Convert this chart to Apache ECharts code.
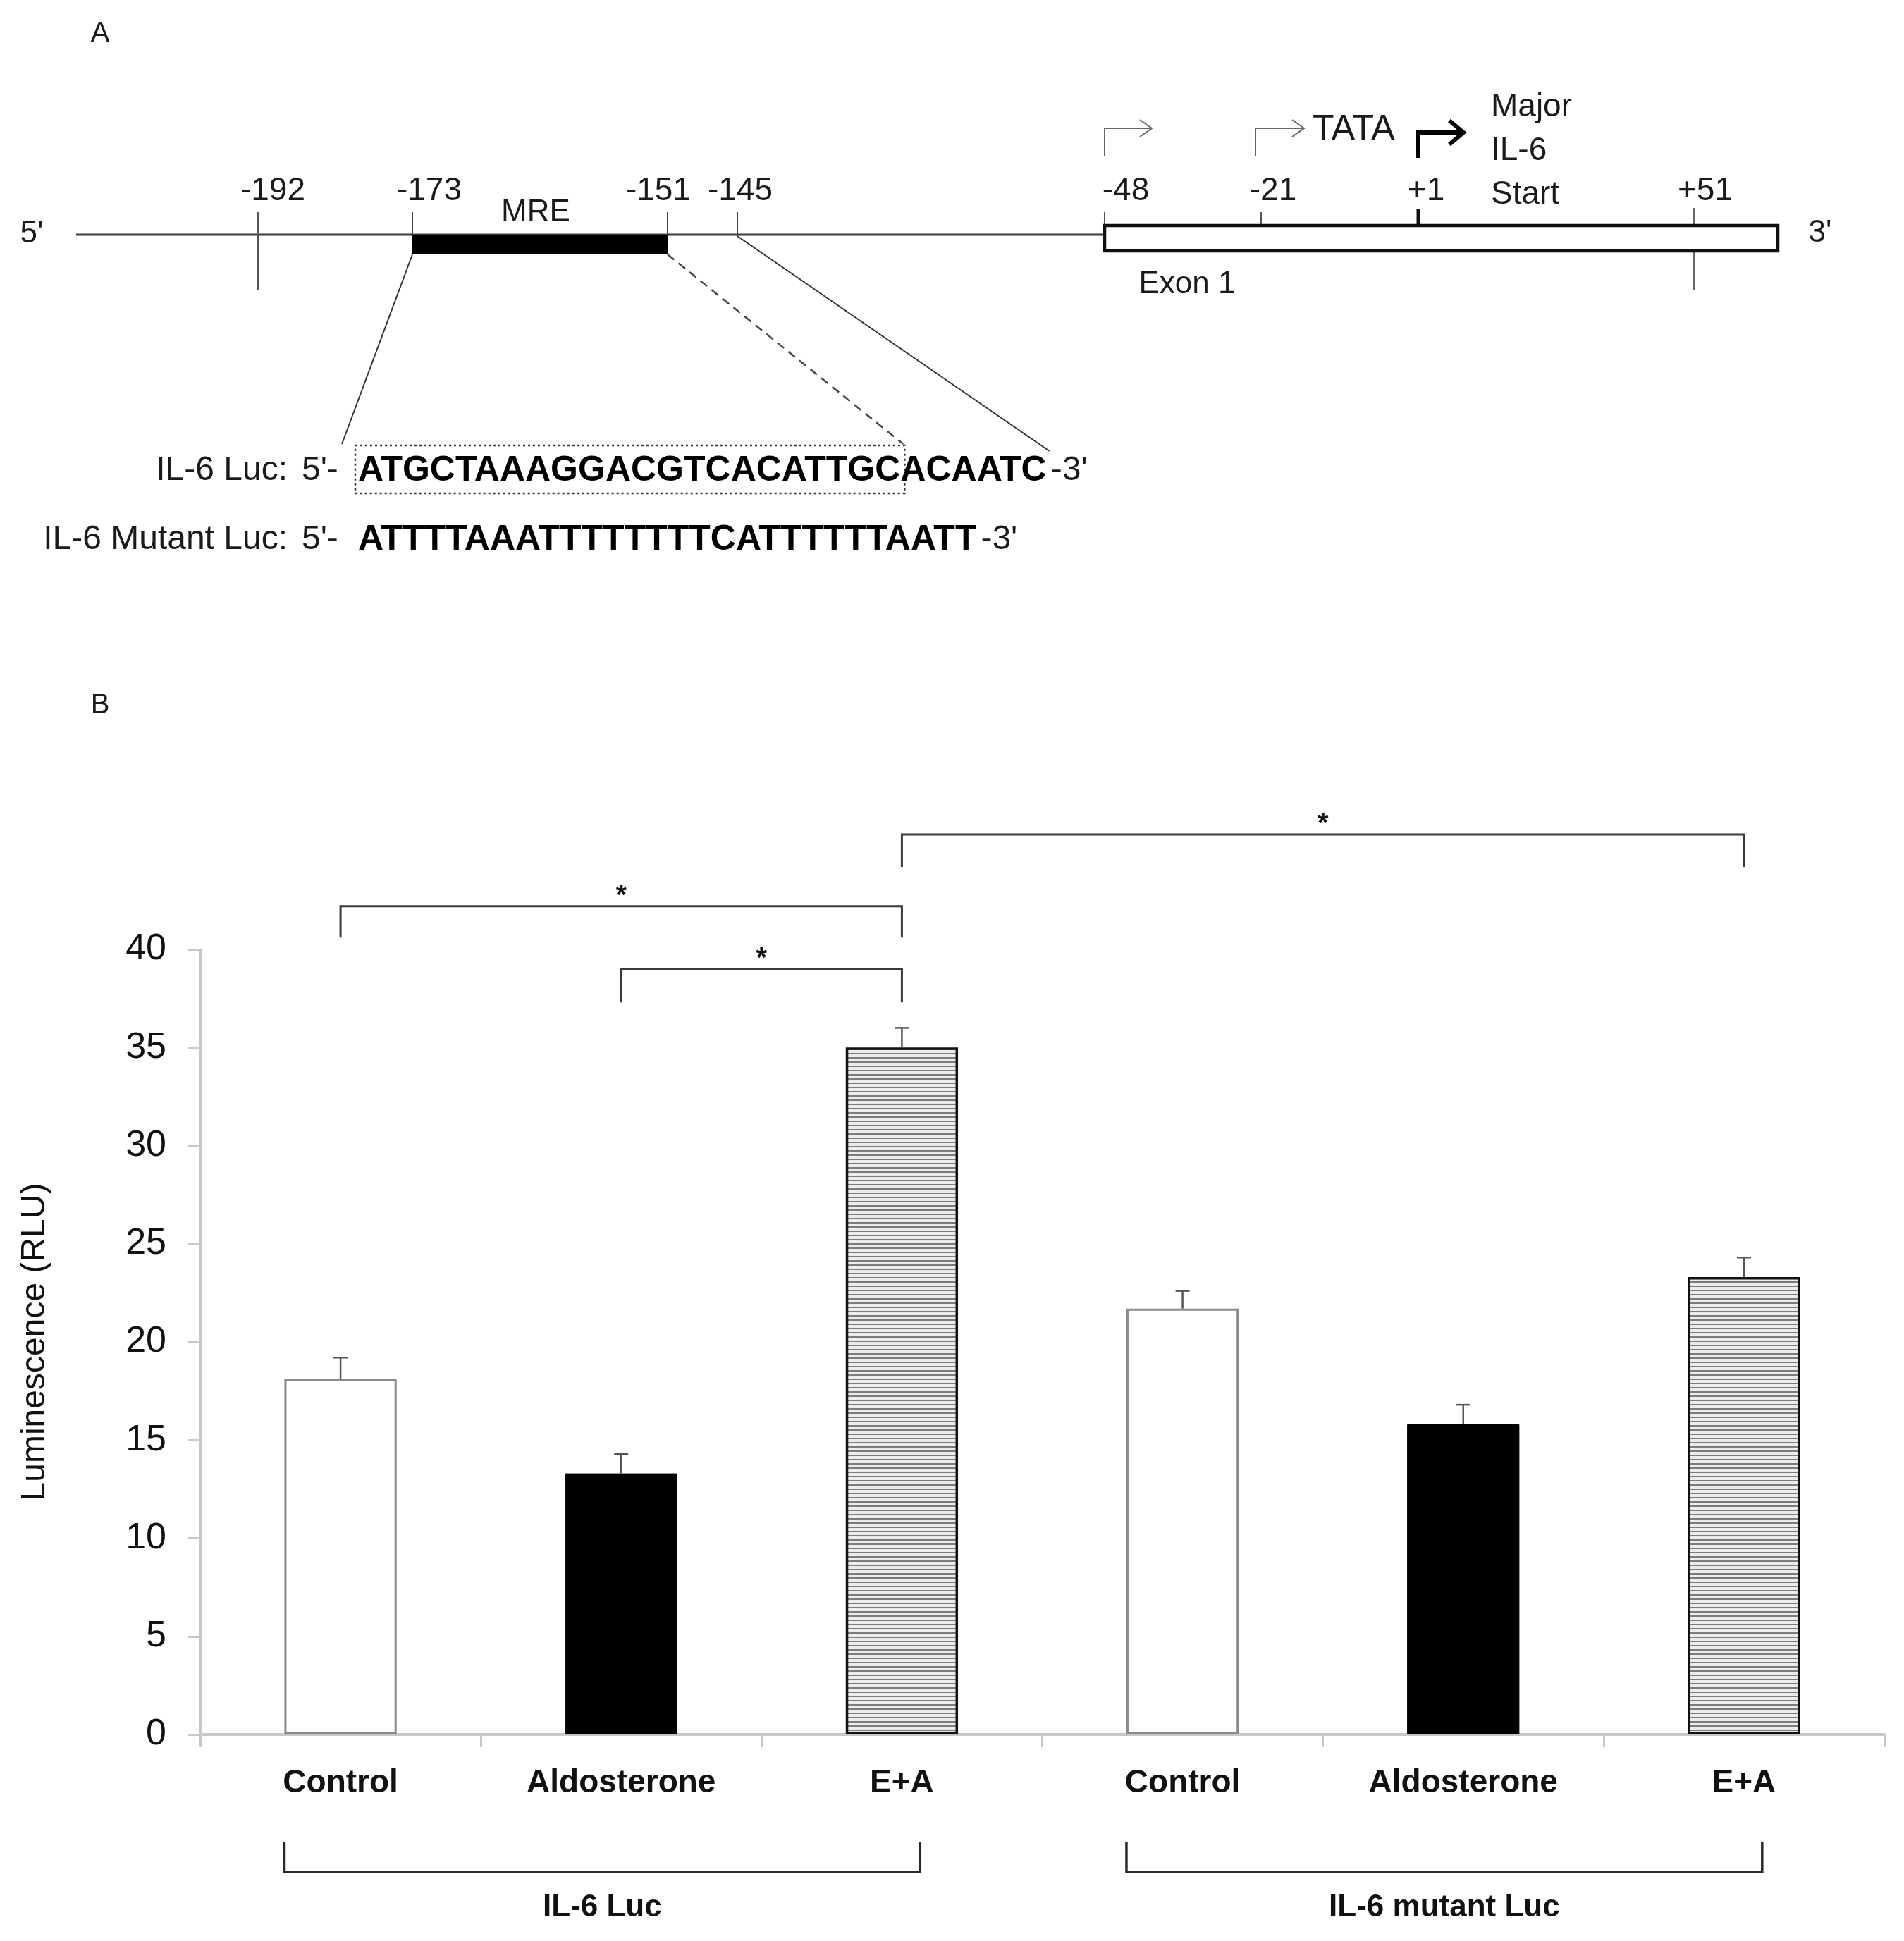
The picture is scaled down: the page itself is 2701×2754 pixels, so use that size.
<!DOCTYPE html>
<html>
<head>
<meta charset="utf-8">
<script src="https://cdn.jsdelivr.net/npm/echarts@6/dist/echarts.min.js"></script>
<style>
html,body{margin:0;padding:0;background:#ffffff;}
#chart{width:2701px;height:2754px;}
</style>
</head>
<body>
<div id="chart"></div>
<script>
// ---------------- DATA (panel B) ----------------
const categories = ['Control', 'Aldosterone', 'E+A', 'Control', 'Aldosterone', 'E+A'];
const treatments = ['control', 'aldo', 'ea', 'control', 'aldo', 'ea'];
const values = [18.1, 13.3, 35.0, 21.7, 15.8, 23.3];
const errors = [1.1, 1.0, 1.0, 0.9, 1.0, 1.0];
const yAxisName = 'Luminescence (RLU)';
const groupLabels = ['IL-6 Luc', 'IL-6 mutant Luc'];
const groupStart = [0, 3];
const groupEnd = [2, 5];
const sigFrom = [0, 1, 2];
const sigTo = [2, 2, 5];
const sigTop = [42.2, 39.0, 45.85];
const sigLegEnd = [40.6, 37.3, 44.2];
const sigMark = ['*', '*', '*'];

// ---------------- DATA (panel A) ----------------
const panelLabels = ['A', 'B'];
const siteLabels = ['-192', '-173', '-151', '-145', '-48', '-21', '+1', '+51'];
const elementLabel = 'MRE';
const exonLabel = 'Exon 1';
const tataLabel = 'TATA';
const startLabel = ['Major', 'IL-6', 'Start'];
const seqNames = ['IL-6 Luc:', 'IL-6 Mutant Luc:'];
const seqMre = ['ATGCTAAAGGACGTCACATTGC', 'ATTTTAAATTTTTTTTCATTTT'];
const seqFlank = ['ACAATC', 'TTAATT'];

// ---------------- LAYOUT ----------------
const FONT = '"Liberation Sans", Arial, Helvetica, sans-serif';
const LA = {
  lineY: 333, lineX0: 108,
  siteX: [366, 585, 947, 1046, 1567, 1789, 2012, 2403],
  siteLabelX: [387, 609, 934, 1050, 1597, 1806, 2023, 2419],
  siteLabelY: 271,
  exonRight: 2522, exonTop: 320, exonBottom: 356,
  seqNameRight: 408, primeX: 428, seqX: 508, seqY: [668, 766]
};

function txt(text, x, y, size, opt) {
  opt = opt || {};
  const al = opt.align || 'center';
  const va = opt.va || 'middle';
  return {
    type: 'text', z: 10, silent: true,
    style: {
      text: text, x: x, y: y,
      font: (opt.weight || 'normal') + ' ' + size + 'px ' + FONT,
      fill: opt.color || '#1a1a1a',
      align: al, textAlign: al, verticalAlign: va, textVerticalAlign: va
    }
  };
}
function ln(x1, y1, x2, y2, w, color, dash) {
  return {
    type: 'line', z: 5, silent: true,
    shape: { x1: x1, y1: y1, x2: x2, y2: y2 },
    style: { stroke: color || '#333', lineWidth: w || 2, lineDash: dash || null, lineCap: 'butt' }
  };
}
function pl(points, w, color) {
  return {
    type: 'polyline', z: 5, silent: true,
    shape: { points: points },
    style: { stroke: color || '#333', lineWidth: w || 2, fill: null, lineJoin: 'miter' }
  };
}

const measureCtx = document.createElement('canvas').getContext('2d');
function textWidth(t, font) { measureCtx.font = font; return measureCtx.measureText(t).width; }

function buildPanelA() {
  const g = [];
  const y = LA.lineY, sx = LA.siteX;
  g.push(txt(panelLabels[0], 142, 48, 40));
  g.push(txt(panelLabels[1], 142, 1001, 40));
  g.push(txt("5'", 45, 332, 44));
  // promoter line
  g.push(ln(LA.lineX0, y, sx[4], y, 3, '#3a3a3a'));
  // MRE block
  g.push({ type: 'rect', z: 6, silent: true, shape: { x: sx[1], y: y + 1, width: sx[2] - sx[1], height: 27 }, style: { fill: '#000' } });
  // site ticks (promoter)
  g.push(ln(sx[0], 301, sx[0], 412, 2, '#555'));
  g.push(ln(sx[1], 301, sx[1], 336, 2, '#444'));
  g.push(ln(sx[2], 301, sx[2], 336, 2, '#444'));
  g.push(ln(sx[3], 301, sx[3], 336, 2, '#444'));
  // exon box
  g.push({ type: 'rect', z: 6, silent: true,
    shape: { x: sx[4], y: LA.exonTop, width: LA.exonRight - sx[4], height: LA.exonBottom - LA.exonTop },
    style: { fill: '#fff', stroke: '#111', lineWidth: 4.5 } });
  g.push(ln(sx[4], 301, sx[4], LA.exonTop, 2, '#555'));
  g.push(ln(sx[5], 301, sx[5], LA.exonTop, 2, '#555'));
  g.push(ln(sx[6], 297, sx[6], LA.exonTop, 5, '#111'));
  g.push(ln(sx[7], 295, sx[7], 412, 2, '#666'));
  // site labels
  for (let i = 0; i < siteLabels.length; i++) {
    g.push(txt(siteLabels[i], LA.siteLabelX[i], LA.siteLabelY, 46));
  }
  g.push(txt(elementLabel, 760, 302, 44));
  g.push(txt("3'", 2582, 331, 44));
  g.push(txt(exonLabel, 1684, 404, 44));
  // transcription start arrows
  g.push(pl([[sx[4], 222], [sx[4], 182], [1632, 182]], 2, '#666'));
  g.push(pl([[1617, 170], [1634, 182], [1617, 194]], 2, '#666'));
  g.push(pl([[1781, 222], [1781, 182], [1848, 182]], 2, '#666'));
  g.push(pl([[1833, 170], [1850, 182], [1833, 194]], 2, '#666'));
  g.push(txt(tataLabel, 1862, 184, 50, { align: 'left' }));
  g.push(pl([[sx[6], 224], [sx[6], 188], [2072, 188]], 6, '#000'));
  g.push(pl([[2056, 171], [2076, 188], [2056, 205]], 6, '#000'));
  for (let i = 0; i < startLabel.length; i++) {
    g.push(txt(startLabel[i], 2115, 152 + i * 62, 46, { align: 'left' }));
  }
  // sequences
  const seqFont = 'bold 50px ' + FONT;
  for (let i = 0; i < seqNames.length; i++) {
    const yy = LA.seqY[i];
    g.push(txt(seqNames[i], LA.seqNameRight, yy, 48, { align: 'right' }));
    g.push(txt("5'-", LA.primeX, yy, 48, { align: 'left' }));
    const full = seqMre[i] + seqFlank[i];
    g.push(txt(full, LA.seqX, yy, 50, { align: 'left', weight: 'bold', color: '#000' }));
    const wFull = textWidth(full, seqFont);
    g.push(txt("-3'", LA.seqX + wFull + 6, yy, 48, { align: 'left' }));
    if (i === 0) {
      const wMre = textWidth(seqMre[i], seqFont);
      g.push({ type: 'rect', z: 6, silent: true,
        shape: { x: LA.seqX - 4, y: yy - 36, width: wMre + 10, height: 68 },
        style: { fill: null, stroke: '#333', lineWidth: 2.5, lineDash: [3, 4] } });
      // connectors
      g.push(ln(sx[1], y + 28, 485, yy - 38, 2, '#333'));
      g.push(ln(sx[2], y + 28, LA.seqX + wMre + 4, yy - 38, 2.5, '#444', [12, 8]));
      g.push(ln(sx[3], y + 2, LA.seqX + wFull + 4, yy - 28, 2, '#333'));
    }
  }
  return g;
}

function hatchPattern() {
  const c = document.createElement('canvas');
  c.width = 8; c.height = 6;
  const g = c.getContext('2d');
  g.fillStyle = '#ececec'; g.fillRect(0, 0, 8, 6);
  g.fillStyle = '#7c7c7c'; g.fillRect(0, 0, 8, 2);
  return c;
}
const hatch = { image: hatchPattern(), repeat: 'repeat' };

const styleByTreatment = {
  control: { color: '#ffffff', borderColor: '#8a8a8a', borderWidth: 3 },
  aldo: { color: '#000000', borderColor: '#000000', borderWidth: 1 },
  ea: { color: hatch, borderColor: '#111111', borderWidth: 3.5 }
};

const barData = values.map((v, i) => ({ value: v, itemStyle: styleByTreatment[treatments[i]] }));
const errData = values.map((v, i) => [i, v, v + errors[i]]);
const sigData = sigFrom.map((f, i) => [f, sigTo[i], sigTop[i], sigLegEnd[i]]);
const groupData = groupStart.map((s, i) => [s, groupEnd[i], i]);

const chart = echarts.init(document.getElementById('chart'), null, { renderer: 'canvas' });
chart.setOption({
  backgroundColor: '#ffffff',
  animation: false,
  textStyle: { fontFamily: FONT },
  grid: { left: 284, right: 28, top: 1347, bottom: 293, containLabel: false },
  xAxis: {
    type: 'category',
    data: categories,
    axisLine: { lineStyle: { color: '#c8c8c8', width: 4 } },
    axisTick: { show: true, alignWithLabel: false, interval: 0, length: 18, lineStyle: { color: '#c8c8c8', width: 3 } },
    axisLabel: { interval: 0, margin: 46, fontSize: 46, fontWeight: 'bold', color: '#111', fontFamily: FONT },
    splitLine: { show: false }
  },
  yAxis: {
    type: 'value', min: 0, max: 40, interval: 5,
    name: yAxisName, nameLocation: 'middle', nameRotate: 90, nameGap: 210,
    nameTextStyle: { fontSize: 48, color: '#111', fontFamily: FONT },
    axisLine: { show: true, lineStyle: { color: '#c8c8c8', width: 3 } },
    axisTick: { show: true, length: 17, lineStyle: { color: '#c8c8c8', width: 3 } },
    axisLabel: { margin: 48, fontSize: 52, fontWeight: 'normal', color: '#111', fontFamily: FONT },
    splitLine: { show: false }
  },
  graphic: { elements: buildPanelA() },
  series: [
    {
      type: 'bar', data: barData, barWidth: '40%', z: 2
    },
    {
      type: 'custom', data: errData, z: 5, clip: false,
      renderItem: function (params, api) {
        const p0 = api.coord([api.value(0), api.value(1)]);
        const p1 = api.coord([api.value(0), api.value(2)]);
        return { type: 'group', children: [
          { type: 'line', shape: { x1: p0[0], y1: p0[1], x2: p1[0], y2: p1[1] }, style: { stroke: '#555', lineWidth: 2.5 } },
          { type: 'line', shape: { x1: p1[0] - 10, y1: p1[1], x2: p1[0] + 10, y2: p1[1] }, style: { stroke: '#555', lineWidth: 2.5 } }
        ] };
      }
    },
    {
      type: 'custom', data: sigData, z: 5, clip: false,
      renderItem: function (params, api) {
        const a = api.coord([api.value(0), api.value(2)]);
        const b = api.coord([api.value(1), api.value(2)]);
        const legY = api.coord([api.value(0), api.value(3)])[1];
        const mx = (a[0] + b[0]) / 2;
        return { type: 'group', children: [
          { type: 'polyline', shape: { points: [[a[0], legY], a, b, [b[0], legY]] }, style: { stroke: '#3a3a3a', lineWidth: 3, fill: null } },
          { type: 'text', style: { text: sigMark[params.dataIndex], x: mx, y: a[1] - 14, font: 'bold 40px ' + FONT, fill: '#111', align: 'center', textAlign: 'center', verticalAlign: 'middle', textVerticalAlign: 'middle' } }
        ] };
      }
    },
    {
      type: 'custom', data: groupData, z: 5, clip: false,
      renderItem: function (params, api) {
        const band = api.size([1, 0])[0];
        const p0 = api.coord([api.value(0), 0]);
        const p1 = api.coord([api.value(1), 0]);
        const x0 = p0[0] - band * 0.2;
        const x1 = p1[0] + band * 0.065;
        const yTop = p0[1] + 152, yBot = p0[1] + 195;
        return { type: 'group', children: [
          { type: 'polyline', shape: { points: [[x0, yTop], [x0, yBot], [x1, yBot], [x1, yTop]] }, style: { stroke: '#2a2a2a', lineWidth: 3.5, fill: null } },
          { type: 'text', style: { text: groupLabels[api.value(2)], x: (x0 + x1) / 2, y: p0[1] + 246, font: 'bold 44px ' + FONT, fill: '#111', align: 'center', textAlign: 'center', verticalAlign: 'middle', textVerticalAlign: 'middle' } }
        ] };
      }
    }
  ]
});
</script>
</body>
</html>
